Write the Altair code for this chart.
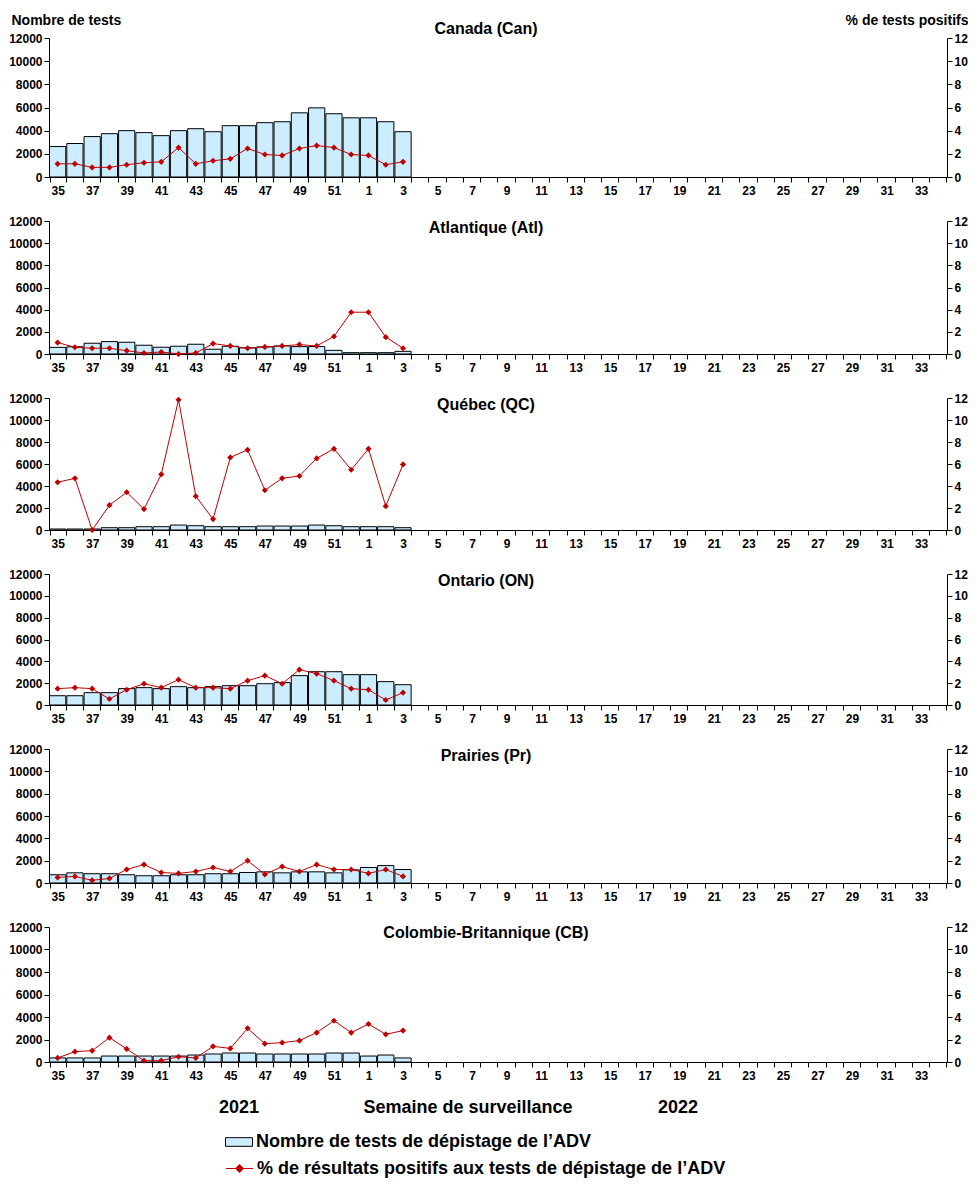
import altair as alt
import pandas as pd

# ---------------- data ----------------
weeks_axis = list(range(35, 53)) + list(range(1, 35))
weeks_data = [35, 36, 37, 38, 39, 40, 41, 42, 43, 44, 45, 46, 47, 48, 49, 50, 51, 52, 1, 2, 3]

regions = ["Canada (Can)", "Atlantique (Atl)", "Québec (QC)", "Ontario (ON)",
           "Prairies (Pr)", "Colombie-Britannique (CB)"]

tests_can = [2630, 2890, 3490, 3740, 4000, 3830, 3570, 4000, 4170, 3910, 4430,
             4430, 4690, 4770, 5540, 5970, 5460, 5110, 5110, 4770, 3910]
pct_can = [1.14, 1.14, 0.83, 0.83, 1.06, 1.23, 1.31, 2.54, 1.14, 1.40, 1.57,
           2.46, 1.94, 1.86, 2.46, 2.71, 2.54, 1.94, 1.86, 1.06, 1.31]

tests_atl = [600, 650, 970, 1120, 1060, 790, 610, 700, 880, 430, 700,
             550, 640, 730, 670, 670, 330, 120, 120, 120, 240]
pct_atl = [1.03, 0.61, 0.52, 0.52, 0.30, 0.09, 0.18, 0.00, 0.09, 0.94, 0.73,
           0.52, 0.64, 0.73, 0.85, 0.73, 1.58, 3.77, 3.77, 1.52, 0.52]

tests_qc = [90, 90, 90, 210, 210, 300, 300, 450, 390, 300, 300,
            300, 360, 360, 360, 450, 390, 300, 300, 300, 210]
pct_qc = [4.34, 4.70, 0.00, 2.26, 3.43, 1.90, 5.06, 11.84, 3.07, 0.99, 6.60,
          7.29, 3.61, 4.70, 4.91, 6.51, 7.38, 5.48, 7.38, 2.17, 5.96]

tests_on = [850, 850, 1130, 1130, 1500, 1590, 1500, 1680, 1590, 1680, 1770,
            1770, 1950, 2050, 2690, 3050, 3050, 2780, 2780, 2140, 1860]
pct_on = [1.50, 1.59, 1.50, 0.55, 1.40, 1.95, 1.59, 2.32, 1.59, 1.59, 1.50,
          2.23, 2.69, 1.95, 3.24, 2.87, 2.23, 1.50, 1.40, 0.46, 1.13]

tests_pr = [740, 910, 830, 830, 740, 650, 650, 740, 740, 830, 830,
            940, 1000, 910, 1000, 1000, 910, 1180, 1390, 1560, 1210]
pct_pr = [0.50, 0.59, 0.24, 0.41, 1.21, 1.65, 0.94, 0.86, 1.03, 1.39, 1.03,
          2.00, 0.77, 1.47, 1.03, 1.65, 1.21, 1.21, 0.86, 1.21, 0.59]

tests_cb = [360, 360, 360, 530, 530, 530, 530, 530, 620, 710, 800,
            800, 710, 710, 710, 710, 800, 800, 530, 620, 360]
pct_cb = [0.36, 0.92, 1.01, 2.16, 1.16, 0.12, 0.12, 0.47, 0.36, 1.39, 1.21,
          2.99, 1.63, 1.72, 1.90, 2.61, 3.67, 2.61, 3.38, 2.46, 2.79]

left_ticks = [0, 2000, 4000, 6000, 8000, 10000, 12000]
right_ticks = [0, 2, 4, 6, 8, 10, 12]

LAB_N = "Nombre de tests de dépistage de l’ADV"
LAB_P = "% de résultats positifs aux tests de dépistage de l’ADV"
year_labels = ["2021", "Semaine de surveillance", "2022"]

# ---------------- style ----------------
FONT = "Liberation Sans"
BLUE = "#CCECFF"
RED = "#C00000"
W = 898
heights = [139, 133, 132, 131, 134, 135]
title_y = [-9, 7, 7, 7, 7, 6]

RECT_PATH = "M-1,-0.32L1,-0.32L1,0.32L-1,0.32Z"
LINE_PATH = "M-1,0L1,0M0,-0.27L0.27,0L0,0.27L-0.27,0Z"

legend_n = alt.Legend(title=None, orient="none", legendX=176, legendY=1090,
                      symbolType=RECT_PATH, symbolSize=729,
                      symbolStrokeColor="black", symbolStrokeWidth=1,
                      labelOffset=3, padding=0)
legend_p = alt.Legend(title=None, orient="none", legendX=176, legendY=1116,
                      symbolType=LINE_PATH, symbolSize=729,
                      symbolStrokeColor=RED, symbolFillColor=RED,
                      symbolStrokeWidth=1.2, labelOffset=3, padding=0)


def make_panel(idx, tests, pct):
    h = heights[idx]
    df = pd.DataFrame({"week": weeks_data, "tests": tests, "pct": pct,
                       "serie_n": LAB_N, "serie_p": LAB_P})
    x = alt.X("week:O",
              scale=alt.Scale(domain=weeks_axis, paddingInner=0.06, paddingOuter=0.03),
              axis=alt.Axis(title=None, labelAngle=0, labelOverlap=False,
                            labelExpr="datum.value % 2 == 1 ? datum.label : ''",
                            tickBand="extent", tickSize=5, labelPadding=3))
    first = idx == 0
    left_axis = alt.Axis(values=left_ticks, grid=False, tickSize=5, format="d",
                         labelPadding=2,
                         title="Nombre de tests" if first else None,
                         titleAngle=0, titleAlign="left", titleBaseline="alphabetic",
                         titleX=-38, titleY=-14)
    right_axis = alt.Axis(values=right_ticks, grid=False, orient="right", tickSize=5,
                          labelPadding=2, format="d",
                          title="% de tests positifs" if first else None,
                          titleAngle=0, titleAlign="right", titleBaseline="alphabetic",
                          titleX=21, titleY=-14)
    yl = alt.Y("tests:Q", scale=alt.Scale(domain=[0, 12000], nice=False), axis=left_axis)
    yr = alt.Y("pct:Q", scale=alt.Scale(domain=[0, 12], nice=False), axis=right_axis)

    bars = alt.Chart(df).mark_bar(stroke="black", strokeWidth=1).encode(
        x=x, y=yl,
        fill=alt.Fill("serie_n:N", scale=alt.Scale(domain=[LAB_N], range=[BLUE]),
                      legend=legend_n))
    line = alt.Chart(df).mark_line(color=RED, strokeWidth=1).encode(x=x, y=yr)
    pts = alt.Chart(df).mark_point(shape="diamond", filled=True, size=38, opacity=1).encode(
        x=x, y=yr,
        color=alt.Color("serie_p:N", scale=alt.Scale(domain=[LAB_P], range=[RED]),
                        legend=legend_p))
    right = alt.layer(line, pts)

    ttl = alt.Chart(pd.DataFrame({"t": [regions[idx]]})).mark_text(
        font=FONT, fontSize=16, fontWeight="bold", align="center",
        baseline="middle", color="black").encode(
        text="t:N", x=alt.value(W / 2 - 12), y=alt.value(title_y[idx]))

    layers = [bars, right, ttl]
    if idx == 5:
        xs = [190, 419, 629]
        for lab, xv in zip(year_labels, xs):
            layers.append(
                alt.Chart(pd.DataFrame({"t": [lab]})).mark_text(
                    font=FONT, fontSize=18, fontWeight="bold", align="center",
                    baseline="middle", color="black").encode(
                    text="t:N", x=alt.value(xv), y=alt.value(181)))
    return alt.layer(*layers).resolve_scale(y="independent").properties(width=W, height=h)


series = [(tests_can, pct_can), (tests_atl, pct_atl), (tests_qc, pct_qc),
          (tests_on, pct_on), (tests_pr, pct_pr), (tests_cb, pct_cb)]
panels = [make_panel(i, t, p) for i, (t, p) in enumerate(series)]

chart = alt.vconcat(*panels, spacing=44, bounds="flush").properties(
    padding={"left": 0, "top": 5, "right": 0, "bottom": 0}
).configure_view(stroke=None).configure_axis(
    labelFont=FONT, labelFontSize=12, labelFontWeight="bold", labelColor="black",
    titleFont=FONT, titleFontSize=14, titleFontWeight="bold", titleColor="black",
    domainColor="black", tickColor="black", domainWidth=1, tickWidth=1
).configure_legend(
    labelFont=FONT, labelFontSize=18, labelFontWeight="bold", labelColor="black",
    labelLimit=0
)

chart.save("out.html", embed_options={"renderer": "svg", "actions": False})
